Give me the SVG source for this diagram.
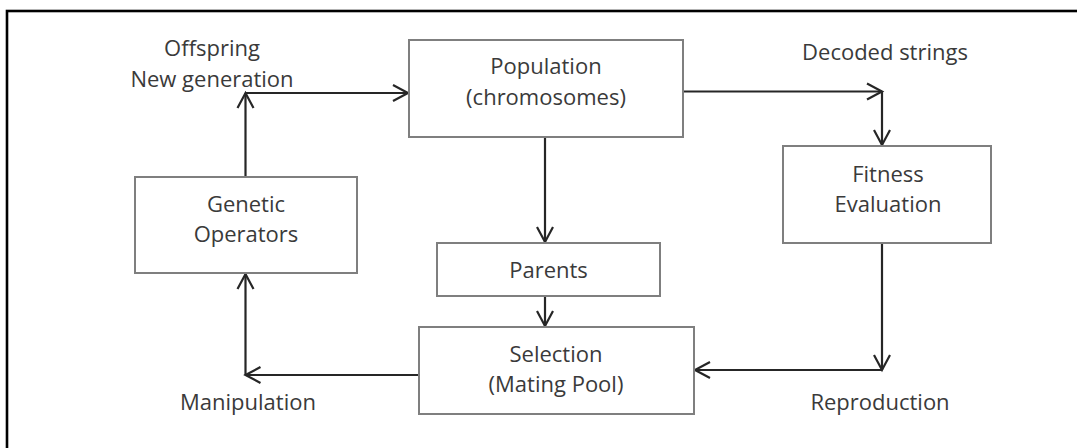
<svg xmlns="http://www.w3.org/2000/svg" width="1077" height="448" viewBox="0 0 1077 448">
<style>
.box{fill:#fff;stroke:#7f7f7f;stroke-width:2}
.t{font-family:"Open Sans","Liberation Sans",sans-serif;font-size:22px;fill:#3a3a3a;text-anchor:middle}
.c{fill:none;stroke:#262626;stroke-width:2.2}
</style>
<defs>
<marker id="ah" markerUnits="userSpaceOnUse" markerWidth="20" markerHeight="20" viewBox="-16 -10 20 20" refX="0" refY="0" orient="auto">
<path d="M-15,-8 L0,0 L-15,8" fill="none" stroke="#262626" stroke-width="2.2"/>
</marker>
</defs>
<rect x="0" y="0" width="1077" height="448" fill="#fff"/>
<rect id="frame" x="7" y="11" width="1100" height="500" fill="none" stroke="#000" stroke-width="2.6"/>
<g id="connectors">
<path class="c" d="M245.5,177 L245.5,93" marker-end="url(#ah)"/>
<path class="c" d="M245.5,93 L408,93" marker-end="url(#ah)"/>
<path class="c" d="M683,91.5 L882,91.5" marker-end="url(#ah)"/>
<path class="c" d="M882,91.5 L882,145" marker-end="url(#ah)"/>
<path class="c" d="M882,243 L882,370" marker-end="url(#ah)"/>
<path class="c" d="M882,370 L695,370" marker-end="url(#ah)"/>
<path class="c" d="M419,375 L245.5,375" marker-end="url(#ah)"/>
<path class="c" d="M245.5,375 L245.5,274" marker-end="url(#ah)"/>
<path class="c" d="M545,137 L545,242" marker-end="url(#ah)"/>
<path class="c" d="M545,296 L545,326" marker-end="url(#ah)"/>
</g>
<g id="population">
<rect class="box" x="409" y="40" width="274" height="97"/>
<text class="t" x="546" y="74">Population</text>
<text class="t" x="546" y="105">(chromosomes)</text>
</g>
<g id="fitness">
<rect class="box" x="783" y="146" width="208" height="97"/>
<text class="t" x="888" y="182">Fitness</text>
<text class="t" x="888" y="212">Evaluation</text>
</g>
<g id="genetic">
<rect class="box" x="135" y="177" width="222" height="96"/>
<text class="t" x="246" y="212">Genetic</text>
<text class="t" x="246" y="242">Operators</text>
</g>
<g id="parents">
<rect class="box" x="437" y="243" width="223" height="53"/>
<text class="t" x="548.5" y="278">Parents</text>
</g>
<g id="selection">
<rect class="box" x="419" y="327" width="275" height="87"/>
<text class="t" x="556" y="362">Selection</text>
<text class="t" x="556" y="392">(Mating Pool)</text>
</g>
<g id="labels">
<text class="t" x="212" y="56">Offspring</text>
<text class="t" x="212" y="87">New generation</text>
<text class="t" x="885" y="60">Decoded strings</text>
<text class="t" x="248" y="410">Manipulation</text>
<text class="t" x="880" y="410">Reproduction</text>
</g>
</svg>
